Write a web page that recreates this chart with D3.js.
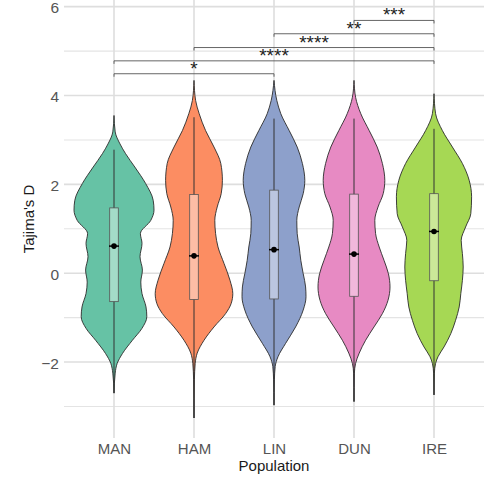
<!DOCTYPE html>
<html>
<head>
<meta charset="utf-8">
<script src="https://cdn.jsdelivr.net/npm/d3@7"></script>
<style>
  body { margin: 0; background: #fff; }
  svg { display: block; font-family: 'Liberation Sans', Arial, sans-serif; }
</style>
</head>
<body>
<div id="chart"></div>
<script>
const populations = ['MAN', 'HAM', 'LIN', 'DUN', 'IRE']
const yTicks = [-2, 0, 2, 4, 6]
const yMinor = [-3, -1, 1, 3, 5]

// violin outlines: value and relative half-width
const manY = [3.55, 3.18, 2.91, 2.69, 2.39, 2.02, 1.64, 1.42, 1.19, 0.89, 0.67, 0.37, 0.07, -0.20, -0.46, -0.76, -0.98, -1.24, -1.51, -1.81, -2.03, -2.25, -2.70]
const manW = [0, 0.03, 0.15, 0.29, 0.52, 0.79, 0.98, 1.0, 0.92, 0.66, 0.70, 0.65, 0.71, 0.67, 0.70, 0.80, 0.82, 0.70, 0.46, 0.21, 0.08, 0.03, 0]
const hamY = [4.34, 3.89, 3.59, 3.21, 2.84, 2.47, 2.09, 1.79, 1.49, 1.19, 0.89, 0.59, 0.22, -0.16, -0.46, -0.68, -0.91, -1.21, -1.51, -1.80, -2.03, -2.40, -3.26]
const hamW = [0, 0.04, 0.13, 0.29, 0.50, 0.67, 0.71, 0.68, 0.58, 0.52, 0.54, 0.60, 0.75, 0.90, 0.97, 0.93, 0.79, 0.50, 0.25, 0.08, 0.03, 0.01, 0]
const linY = [4.34, 3.89, 3.59, 3.21, 2.84, 2.47, 2.09, 1.79, 1.49, 1.19, 0.89, 0.59, 0.29, -0.01, -0.31, -0.53, -0.83, -1.21, -1.58, -1.88, -2.10, -2.40, -2.97]
const linW = [0, 0.07, 0.17, 0.38, 0.58, 0.71, 0.77, 0.73, 0.63, 0.57, 0.58, 0.63, 0.67, 0.73, 0.79, 0.80, 0.73, 0.54, 0.29, 0.10, 0.03, 0.01, 0]
const dunY = [4.34, 3.96, 3.59, 3.21, 2.84, 2.47, 2.09, 1.79, 1.49, 1.19, 0.89, 0.59, 0.29, -0.01, -0.31, -0.61, -0.91, -1.21, -1.51, -1.80, -2.03, -2.25, -2.89]
const dunW = [0, 0.04, 0.17, 0.38, 0.58, 0.71, 0.77, 0.73, 0.60, 0.52, 0.54, 0.63, 0.75, 0.86, 0.90, 0.85, 0.71, 0.50, 0.29, 0.13, 0.04, 0.01, 0]
const ireY = [4.04, 3.59, 3.21, 2.84, 2.47, 2.09, 1.72, 1.34, 1.04, 0.74, 0.44, 0.14, -0.16, -0.46, -0.76, -1.06, -1.36, -1.66, -1.88, -2.03, -2.25, -2.74]
const ireW = [0, 0.04, 0.21, 0.46, 0.71, 0.88, 0.94, 0.92, 0.79, 0.68, 0.71, 0.73, 0.71, 0.67, 0.63, 0.54, 0.42, 0.25, 0.10, 0.04, 0.01, 0]

// box summaries
const q3 = [1.47, 1.77, 1.87, 1.78, 1.79]
const q1 = [-0.64, -0.59, -0.58, -0.52, -0.17]
const centre = [0.61, 0.39, 0.53, 0.43, 0.94]
const whiskerTop = [2.78, 3.51, 3.48, 3.48, 3.25]
const whiskerBottom = [-2.70, -3.26, -2.97, -2.89, -2.74]

// significance brackets
const pairs = [['MAN', 'LIN'], ['MAN', 'IRE'], ['HAM', 'IRE'], ['LIN', 'IRE'], ['DUN', 'IRE']]
const pairLabels = ['*', '****', '****', '**', '***']
const pairY = [4.49, 4.78, 5.08, 5.39, 5.69]

const fills = ['#66C2A5', '#FC8D62', '#8DA0CB', '#E78AC3', '#A6D854']
const boxFills = ['#A3DBC8', '#FDBDA5', '#BBC6E0', '#F1B8DB', '#CBE898']

function draw() {
  const width = 490
  const height = 481
  const panel = { left: 64, right: 484, top: 0, bottom: 438 }

  const svg = d3.select('#chart')
    .append('svg')
    .attr('width', width)
    .attr('height', height)

  const x = d3.scalePoint()
    .domain(populations)
    .range([114, 434])

  const y = d3.scaleLinear()
    .domain([-3.71, 6.15])
    .range([panel.bottom, panel.top])

  const w = d3.scaleLinear()
    .domain([0, 1])
    .range([0, 40])

  // grid
  svg.append('g')
    .selectAll('line')
    .data(yMinor)
    .join('line')
    .attr('x1', panel.left)
    .attr('x2', panel.right)
    .attr('y1', d => y(d))
    .attr('y2', d => y(d))
    .attr('stroke', '#E4E4E4')
    .attr('stroke-width', 1.1)

  svg.append('g')
    .selectAll('line')
    .data(yTicks)
    .join('line')
    .attr('x1', panel.left)
    .attr('x2', panel.right)
    .attr('y1', d => y(d))
    .attr('y2', d => y(d))
    .attr('stroke', '#DEDEDE')
    .attr('stroke-width', 1.6)

  svg.append('g')
    .selectAll('line')
    .data(populations)
    .join('line')
    .attr('x1', d => x(d))
    .attr('x2', d => x(d))
    .attr('y1', panel.top)
    .attr('y2', panel.bottom)
    .attr('stroke', '#DEDEDE')
    .attr('stroke-width', 1.6)

  // axes text
  const yAxis = svg.append('g')
    .attr('transform', `translate(${panel.left},0)`)
    .call(d3.axisLeft(y).tickValues(yTicks).tickSize(0).tickPadding(5).tickFormat(d3.format('d')))
  yAxis.select('.domain').remove()
  yAxis.selectAll('text')
    .attr('fill', '#555')
    .attr('dy', '0.4em')
    .style('font-size', '15.5px')
    .style('font-family', "'Liberation Sans', Arial, sans-serif")

  const xAxis = svg.append('g')
    .attr('transform', `translate(0,${panel.bottom})`)
    .call(d3.axisBottom(x).tickSize(0).tickPadding(5))
  xAxis.select('.domain').remove()
  xAxis.selectAll('text')
    .attr('fill', '#555')
    .style('font-size', '15px')
    .style('font-family', "'Liberation Sans', Arial, sans-serif")

  svg.append('text')
    .attr('x', 274)
    .attr('y', 471)
    .attr('text-anchor', 'middle')
    .style('font-size', '15px')
    .attr('fill', '#1A1A1A')
    .text('Population')

  svg.append('text')
    .attr('transform', `translate(34,${(panel.top + panel.bottom) / 2}) rotate(-90)`)
    .attr('text-anchor', 'middle')
    .style('font-size', '15px')
    .attr('fill', '#1A1A1A')
    .text("Tajima's D")

  // violins
  const profiles = [[manY, manW], [hamY, hamW], [linY, linW], [dunY, dunW], [ireY, ireW]]

  populations.forEach((pop, i) => {
    const cx = x(pop)
    const pts = d3.zip(profiles[i][0], profiles[i][1])
    const area = d3.area()
      .y(d => y(d[0]))
      .x0(d => cx - w(d[1]))
      .x1(d => cx + w(d[1]))
      .curve(d3.curveMonotoneY)

    svg.append('path')
      .datum(pts)
      .attr('d', area)
      .attr('fill', fills[i])
      .attr('stroke', '#2B2B2B')
      .attr('stroke-width', 0.9)

    svg.append('line')
      .attr('x1', cx)
      .attr('x2', cx)
      .attr('y1', y(whiskerTop[i]))
      .attr('y2', y(whiskerBottom[i]))
      .attr('stroke', '#333')
      .attr('stroke-width', 1)

    svg.append('rect')
      .attr('x', cx - 4.3)
      .attr('width', 8.6)
      .attr('y', y(q3[i]))
      .attr('height', y(q1[i]) - y(q3[i]))
      .attr('fill', boxFills[i])
      .attr('stroke', '#555')
      .attr('stroke-width', 0.8)

    svg.append('line')
      .attr('x1', cx - 5)
      .attr('x2', cx + 5)
      .attr('y1', y(centre[i]))
      .attr('y2', y(centre[i]))
      .attr('stroke', '#000')
      .attr('stroke-width', 1.5)

    svg.append('circle')
      .attr('cx', cx)
      .attr('cy', y(centre[i]))
      .attr('r', 2.8)
      .attr('fill', '#000')
  })

  // brackets
  const br = svg.append('g')
  pairs.forEach((p, i) => {
    const x1 = x(p[0])
    const x2 = x(p[1])
    const yy = y(pairY[i])
    br.append('path')
      .attr('d', `M${x1},${yy + 3}V${yy}H${x2}V${yy + 3}`)
      .attr('fill', 'none')
      .attr('stroke', '#555')
      .attr('stroke-width', 0.9)
    br.append('text')
      .attr('x', (x1 + x2) / 2)
      .attr('y', yy + 1)
      .attr('text-anchor', 'middle')
      .style('font-size', '19px')
      .attr('fill', '#222')
      .text(pairLabels[i])
  })
}

draw()
</script>
</body>
</html>
